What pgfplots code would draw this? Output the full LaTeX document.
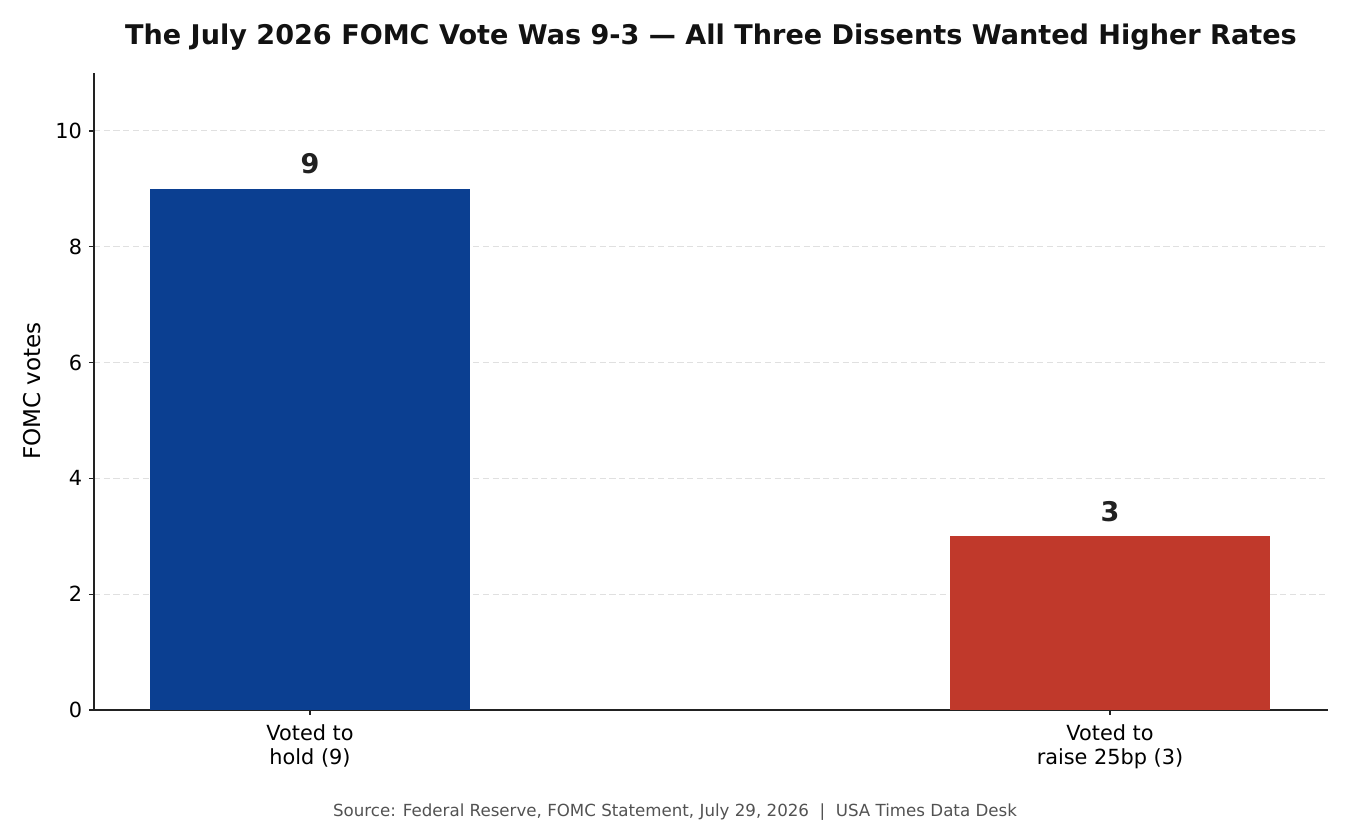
\documentclass[border=0pt]{standalone}
\usepackage{fontspec}
\setmainfont{DejaVu Sans}
\usepackage{pgfplots}
\pgfplotsset{compat=1.18}
\definecolor{holdblue}{HTML}{0B3F91}
\definecolor{raisered}{HTML}{C0392B}
\definecolor{gridgray}{HTML}{E0E0E0}
\definecolor{axisgray}{HTML}{222222}
\begin{document}
\begin{tikzpicture}
\useasboundingbox (0,0) rectangle (972pt,594pt);
\begin{axis}[
  at={(67.68pt,82.8pt)}, anchor=south west,
  scale only axis, width=888.48pt, height=458.64pt,
  xmin=-0.27, xmax=1.2725, ymin=0, ymax=11,
  axis lines=left,
  axis line style={-, color=axisgray, line width=0.9pt},
  xtick={0,1},
  xticklabels={{Voted to\\hold (9)},{Voted to\\raise 25bp (3)}},
  ytick={0,2,4,6,8,10},
  tick align=outside,
  major tick length=3.6pt,
  tick style={color=axisgray, line width=0.9pt},
  ymajorgrids,
  grid style={color=gridgray, line width=0.8pt, dash pattern=on 4.5pt off 2.5pt},
  /pgf/number format/assume math mode=true,
  ticklabel style={font=\fontsize{15}{17}\selectfont, color=black},
  xticklabel style={align=center, yshift=-3.6pt},
  yticklabel style={xshift=-1.5pt},
  nodes near coords,
  every node near coord/.append style={font=\bfseries\fontsize{19.5}{23}\selectfont, color=black!87, inner sep=0pt, yshift=10.5pt},
]
\addplot[ybar, bar width=0.4, bar shift=0pt, fill=holdblue, draw=none] coordinates {(0,9)};
\addplot[ybar, bar width=0.4, bar shift=0pt, fill=raisered, draw=none] coordinates {(1,3)};
\end{axis}
\node[font=\fontsize{16.6}{19}\selectfont, rotate=90, anchor=center, inner sep=0pt] at (23.4pt,312.5pt) {FOMC votes};
\node[font=\bfseries\fontsize{19.5}{23}\selectfont, color=black!93, anchor=base] at (511.9pt,561.8pt) {The July 2026 FOMC Vote Was 9-3 — All Three Dissents Wanted Higher Rates};
\node[font=\fontsize{12}{14}\selectfont, color=black!68, anchor=base] at (486pt,5.8pt) {Source: Federal Reserve, FOMC Statement, July 29, 2026 \ | \ USA Times Data Desk};
\end{tikzpicture}
\end{document}
